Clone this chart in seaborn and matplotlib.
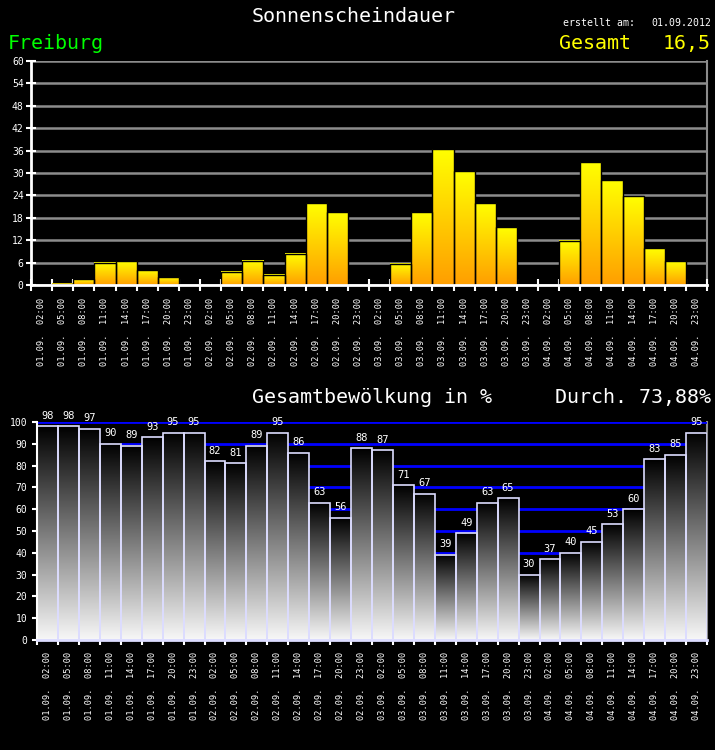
import numpy as np
import pandas as pd
import matplotlib
matplotlib.use("Agg")
import matplotlib.pyplot as plt
import seaborn as sns

# ---------------- data ----------------
days = ["01.09.", "02.09.", "03.09.", "04.09."]
hours = ["02:00", "05:00", "08:00", "11:00", "14:00", "17:00", "20:00", "23:00"]
sunshine = [0, 0.3, 1.6, 5.9, 6.4, 4.0, 2.1, 0,
            0, 3.5, 6.5, 2.8, 8.4, 21.9, 19.5, 0,
            0, 5.7, 19.5, 36.4, 30.5, 21.9, 15.5, 0,
            0, 11.8, 32.9, 28.1, 23.8, 9.9, 6.4, 0]
clouds = [98, 98, 97, 90, 89, 93, 95, 95,
          82, 81, 89, 95, 86, 63, 56, 88,
          87, 71, 67, 39, 49, 63, 65, 30,
          37, 40, 45, 53, 60, 83, 85, 95]
sun_ticks = [0, 6, 12, 18, 24, 30, 36, 42, 48, 54, 60]
cloud_ticks = [0, 10, 20, 30, 40, 50, 60, 70, 80, 90, 100]
title_top = "Sonnenscheindauer"
title_bottom = "Gesamtbewölkung in %"
station = "Freiburg"
total_label, total_value = "Gesamt", "16,5"
avg_label = "Durch. 73,88%"
created_label, created_date = "erstellt am:", "01.09.2012"

labels = [f"{d}  {h}" for d in days for h in hours]
df = pd.DataFrame({"label": labels, "sun": sunshine, "cloud": clouds})

MONO = "DejaVu Sans Mono"
W, H = 715, 750

fig = plt.figure(figsize=(W / 100, H / 100), dpi=100, facecolor="black")
ax1 = fig.add_axes([31 / W, 1 - 285 / H, 676 / W, 224 / H])
ax2 = fig.add_axes([37 / W, 1 - 640 / H, 670 / W, 218 / H])


def gradient_bars(ax, top_rgb, bottom_rgb):
    top = np.array(top_rgb, dtype=float)
    bot = np.array(bottom_rgb, dtype=float)
    g = np.linspace(0, 1, 256).reshape(-1, 1, 1)
    img = top * (1 - g) + bot * g
    for p in ax.patches:
        h = p.get_height()
        if h <= 0:
            p.set_visible(False)
            continue
        x0, y0, w = p.get_x(), p.get_y(), p.get_width()
        ax.imshow(img, extent=[x0, x0 + w, y0, y0 + h], origin="upper",
                  aspect="auto", zorder=0.9, interpolation="bilinear")
        p.set_facecolor("none")
        p.set_zorder(1)


# ---------------- top chart ----------------
sns.barplot(data=df, x="label", y="sun", order=labels, ax=ax1, width=1.0,
            color="orange", saturation=1, edgecolor="black", linewidth=1.0,
            errorbar=None)
gradient_bars(ax1, (1, 1, 0), (1, 0.62, 0))
ax1.set_facecolor("black")
ax1.set_xlim(-0.5, len(labels) - 0.5)
ax1.set_ylim(0, 60)
ax1.set_axisbelow(True)
ax1.set_yticks(sun_ticks)
ax1.set_yticklabels([str(t) for t in sun_ticks], fontfamily=MONO)
ax1.yaxis.grid(True, color="#8c8c8c", linewidth=1.8)
ax1.set_xlabel("")
ax1.set_ylabel("")
ax1.set_xticks(range(len(labels)))
ax1.set_xticklabels(labels, rotation=90, fontfamily=MONO)
ax1.set_xticks(np.arange(-0.5, len(labels), 1), minor=True)
ax1.tick_params(axis="x", which="major", length=0, pad=9.5, labelsize=6.2,
                colors="white")
ax1.tick_params(axis="x", which="minor", direction="inout", length=8.5,
                width=1.5, color="white")
ax1.tick_params(axis="y", direction="inout", length=7.5, width=1.5,
                colors="white", labelsize=7, pad=1.5)
for s in ["left", "bottom"]:
    ax1.spines[s].set_color("white")
    ax1.spines[s].set_linewidth(2)
ax1.spines["right"].set_color("#8c8c8c")
ax1.spines["right"].set_linewidth(1.5)
ax1.spines["top"].set_visible(False)
ax1.spines["right"].set_zorder(0.5)

# ---------------- bottom chart ----------------
sns.barplot(data=df, x="label", y="cloud", order=labels, ax=ax2, width=1.0,
            color="gray", saturation=1, edgecolor="#dcdcff", linewidth=1.2,
            errorbar=None)
gradient_bars(ax2, (0, 0, 0), (0.97, 0.97, 0.97))
ax2.bar_label(ax2.containers[0], fmt="%d", padding=4, color="white",
              fontsize=7.5, fontfamily=MONO, zorder=3)
ax2.set_facecolor("black")
ax2.set_xlim(-0.5, len(labels) - 0.5)
ax2.set_ylim(0, 100)
ax2.set_axisbelow(True)
ax2.set_yticks(cloud_ticks)
ax2.set_yticklabels([str(t) for t in cloud_ticks], fontfamily=MONO)
ax2.yaxis.grid(True, color="#0000ff", linewidth=2)
ax2.set_xlabel("")
ax2.set_ylabel("")
ax2.set_xticks(range(len(labels)))
ax2.set_xticklabels(labels, rotation=90, fontfamily=MONO)
ax2.set_xticks(np.arange(-0.5, len(labels), 1), minor=True)
ax2.tick_params(axis="x", which="major", length=0, pad=8.5, labelsize=6.2,
                colors="white")
ax2.tick_params(axis="x", which="minor", direction="out", length=3.8,
                width=1.5, color="white")
ax2.tick_params(axis="y", direction="out", length=3.6, width=1.5,
                colors="white", labelsize=7, pad=3.5)
ax2.spines["left"].set_color("white")
ax2.spines["left"].set_linewidth(1.5)
ax2.spines["bottom"].set_color("#dcdcff")
ax2.spines["bottom"].set_linewidth(2)
ax2.spines["right"].set_color("#8c8c8c")
ax2.spines["right"].set_linewidth(1.5)
ax2.spines["right"].set_zorder(0.5)
ax2.spines["top"].set_visible(False)

# ---------------- texts ----------------
def ftext(x, y, s, size, color="white", ha="left"):
    fig.text(x / W, 1 - y / H, s, fontsize=size, color=color, ha=ha,
             va="baseline", fontfamily=MONO)

ftext(353.5, 22, title_top, 14.4, ha="center")
ftext(8, 49, station, 14.4, color="#00ff00")
ftext(559, 49, total_label, 14.4, color="#ffff00")
ftext(711, 49, total_value, 14.4, color="#ffff00", ha="right")
ftext(563, 26, created_label, 7.1)
ftext(711, 26, created_date, 7.1, ha="right")
ftext(252, 403, title_bottom, 14.4)
ftext(711, 403, avg_label, 14.4, ha="right")

fig.savefig("out.png", dpi=100, facecolor="black")
